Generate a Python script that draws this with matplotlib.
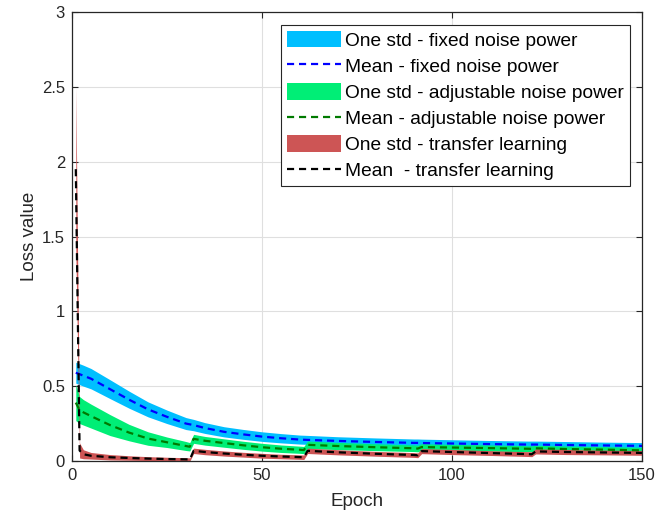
import numpy as np
import matplotlib
matplotlib.use("Agg")
import matplotlib.pyplot as plt

plt.rcParams['font.family'] = ['Liberation Sans', 'DejaVu Sans']

epochs = [1, 2, 3, 5, 10, 15, 20, 25, 30, 31, 32, 35, 40, 45, 50, 55, 60, 61, 62,
          70, 80, 90, 91, 92, 100, 110, 120, 121, 122, 130, 140, 150]

# fixed noise power
fixed_mean = [0.59, 0.58, 0.57, 0.55, 0.48, 0.41, 0.345, 0.295, 0.25, 0.245, 0.24, 0.22,
              0.195, 0.178, 0.163, 0.152, 0.143, 0.142, 0.141, 0.134, 0.127, 0.121, 0.121,
              0.12, 0.117, 0.113, 0.11, 0.11, 0.11, 0.107, 0.104, 0.101]
fixed_std = [0.07, 0.07, 0.07, 0.068, 0.063, 0.057, 0.05, 0.045, 0.04, 0.039, 0.038, 0.036,
             0.034, 0.033, 0.032, 0.031, 0.03, 0.03, 0.03, 0.028, 0.027, 0.026, 0.026,
             0.026, 0.025, 0.024, 0.023, 0.023, 0.023, 0.023, 0.022, 0.022]

# adjustable noise power
adj_mean = [0.39, 0.34, 0.325, 0.3, 0.24, 0.19, 0.15, 0.125, 0.1, 0.095, 0.148, 0.135,
            0.12, 0.105, 0.092, 0.082, 0.075, 0.073, 0.108, 0.1, 0.092, 0.085, 0.083,
            0.093, 0.09, 0.086, 0.082, 0.081, 0.085, 0.08, 0.076, 0.071]
adj_std = [0.12, 0.09, 0.085, 0.08, 0.07, 0.055, 0.045, 0.035, 0.03, 0.028, 0.03, 0.029,
           0.028, 0.027, 0.026, 0.025, 0.024, 0.024, 0.025, 0.024, 0.023, 0.022, 0.022,
           0.022, 0.021, 0.021, 0.02, 0.02, 0.02, 0.02, 0.02, 0.02]

# transfer learning
tl_mean = [1.95, 0.07, 0.045, 0.035, 0.025, 0.02, 0.016, 0.013, 0.011, 0.01, 0.068, 0.06,
           0.05, 0.042, 0.035, 0.03, 0.026, 0.025, 0.068, 0.058, 0.048, 0.04, 0.038,
           0.066, 0.06, 0.053, 0.046, 0.045, 0.064, 0.06, 0.057, 0.054]
tl_std = [0.55, 0.05, 0.03, 0.022, 0.018, 0.015, 0.013, 0.012, 0.011, 0.011, 0.018, 0.018,
          0.017, 0.016, 0.016, 0.015, 0.015, 0.015, 0.018, 0.017, 0.016, 0.016, 0.016,
          0.017, 0.017, 0.016, 0.016, 0.016, 0.017, 0.017, 0.016, 0.016]

x = np.array(epochs)

fig = plt.figure(figsize=(6.71, 5.16), dpi=100)
ax = fig.add_axes([0.1073, 0.1066, 0.8495, 0.8701])

dark = '#262626'

def band(m, s, color, label):
    m = np.array(m)
    s = np.array(s)
    ax.fill_between(x, m - s, m + s, color=color, linewidth=0, label=label)

def mean_line(m, color, label):
    ax.plot(x, m, color=color, linestyle=(0, (3.2, 2.2)), linewidth=1.6, label=label)

band(fixed_mean, fixed_std, '#00BFFF', 'One std - fixed noise power')
mean_line(fixed_mean, '#0000FF', 'Mean - fixed noise power')
band(adj_mean, adj_std, '#00EE76', 'One std - adjustable noise power')
mean_line(adj_mean, '#007A00', 'Mean - adjustable noise power')
band(tl_mean, tl_std, '#CD5555', 'One std - transfer learning')
mean_line(tl_mean, '#000000', 'Mean  - transfer learning')

ax.set_xlim(0, 150)
ax.set_ylim(0, 3)
ax.set_xticks([0, 50, 100, 150])
ax.set_yticks([0, 0.5, 1, 1.5, 2, 2.5, 3])
ax.set_yticklabels(['0', '0.5', '1', '1.5', '2', '2.5', '3'])
ax.grid(True, color='#dfdfdf', linewidth=0.8)
ax.set_axisbelow(True)
ax.tick_params(direction='in', top=True, right=True, labelsize=12, colors=dark,
               length=4, width=0.8, pad=5)
for sp in ax.spines.values():
    sp.set_color(dark)
    sp.set_linewidth(0.9)

ax.set_xlabel('Epoch', fontsize=13.5, color=dark, labelpad=7)
ax.set_ylabel('Loss value', fontsize=13.5, color=dark, labelpad=3)

leg = ax.legend(loc='upper right', bbox_to_anchor=(0.979, 0.971), borderaxespad=0,
                fontsize=13.8, handlelength=2.8, handleheight=0.95, handletextpad=0.25,
                labelspacing=0.38, borderpad=0.3, fancybox=False, framealpha=1,
                edgecolor=dark)
leg.get_frame().set_linewidth(0.8)

fig.savefig('out.png', dpi=100)
